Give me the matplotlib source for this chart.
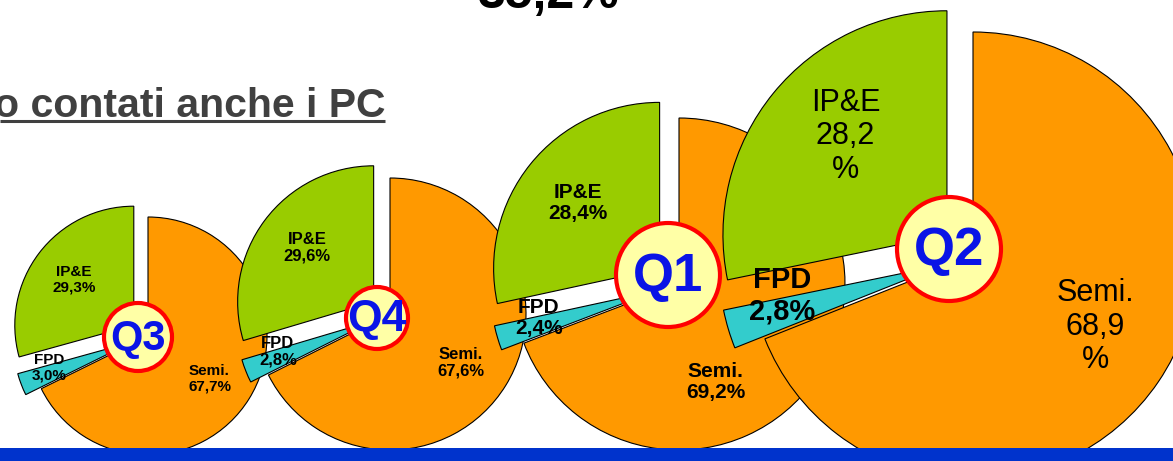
import matplotlib
matplotlib.use("Agg")
import matplotlib.pyplot as plt
from matplotlib import font_manager
from matplotlib.patches import Circle, Rectangle
import numpy as np

# Data
quarters = ["Q3", "Q4", "Q1", "Q2"]
segments = ["Semi.", "FPD", "IP&E"]
semi = [67.7, 67.6, 69.2, 68.9]
fpd = [3.0, 2.8, 2.4, 2.8]
ipe = [29.3, 29.6, 28.4, 28.2]
title_text = "o contati anche i PC"
top_text = "35,2%"

# Styling / layout (pixel coords, y up)
W, H = 1173, 461
colors = ["#FF9900", "#33CCCC", "#99CC00"]
explode = [0.0, 0.14, 0.15]   # fraction of radius
centers = [(148, 125), (390, 147), (679, 177), (973, 205)]
radii = [119, 136, 166, 224]
badge_off = [(-10, -1), (-13, -4), (-11, 9), (-24, 7)]
badge_r = [34, 31, 52, 52]
badge_fs = [30, 32, 38, 38]
label_fs = [11, 12, 15, 22]
fpd_fs = [11, 12, 15, 21]
label_bold = [True, True, True, False]
wrap_pct = [False, False, False, True]
label_dist = [0.63, 0.87, 0.78]
angle_adj = [[-3, -3, 0], [-3, -3, -2], [-35, -3, 0], [4, -5, -4]]

plt.rcParams["font.family"] = ["Liberation Sans", "DejaVu Sans"]


def fmt(v):
    return f"{v:.1f}".replace(".", ",")


def narrow_family():
    try:
        font_manager.findfont(font_manager.FontProperties(family="Liberation Sans Narrow", weight="bold"),
                              fallback_to_default=False)
        return "Liberation Sans Narrow", 33
    except ValueError:
        return "Liberation Sans", 29.5


fig = plt.figure(figsize=(W / 100, H / 100), dpi=100)
ax = fig.add_axes([0, 0, 1, 1])

for i, q in enumerate(quarters):
    vals = [semi[i], fpd[i], ipe[i]]
    cx, cy = centers[i]
    R = radii[i]
    # pie explode works in data units, so scale by radius
    wedges, _ = ax.pie(vals, colors=colors, explode=[e * R for e in explode], startangle=90,
                       counterclock=False, center=(cx, cy), radius=R,
                       wedgeprops=dict(edgecolor="black", linewidth=0.8))
    for j, w in enumerate(wedges):
        mid = np.deg2rad((w.theta1 + w.theta2) / 2 + angle_adj[i][j])
        d = label_dist[j] * R
        if wrap_pct[i] and j != 1:
            txt = f"{segments[j]}\n{fmt(vals[j])}\n%"
        else:
            txt = f"{segments[j]}\n{fmt(vals[j])}%"
        bold = label_bold[i] or j == 1
        fs = fpd_fs[i] if j == 1 else label_fs[i]
        ax.text(cx + d * np.cos(mid), cy + d * np.sin(mid), txt, ha="center", va="center",
                fontsize=fs, fontweight="bold" if bold else "normal", color="black",
                linespacing=1.15, zorder=10 + i)

    bx, by = cx + badge_off[i][0], cy + badge_off[i][1]
    ax.add_patch(Circle((bx, by), badge_r[i], facecolor="#FFFFA6", edgecolor="#FF0000",
                        linewidth=3, zorder=20))
    ax.text(bx, by - 2, q, ha="center", va="center", fontsize=badge_fs[i], fontweight="bold",
            color="#0A14E6", zorder=21)

# title fragment, underlined
fam, tsize = narrow_family()
ax.text(385, H - 117, title_text, ha="right", va="baseline", fontsize=tsize, fontweight="bold",
        family=fam, color="#404040", zorder=5)
ax.plot([0, 385], [H - 121, H - 121], color="#404040", linewidth=2.2, solid_capstyle="butt", zorder=5)

# number cut at top, as in the source slide
ax.text(549, H - 8, top_text, ha="center", va="baseline", fontsize=36, fontweight="bold",
        color="black", zorder=5)

# blue bar at bottom
ax.add_patch(Rectangle((0, 0), W, 13, facecolor="#0033CC", edgecolor="none", zorder=30))

ax.set_xlim(0, W)
ax.set_ylim(0, H)
ax.set_aspect("equal")
ax.axis("off")

fig.savefig("out.png", dpi=100)
